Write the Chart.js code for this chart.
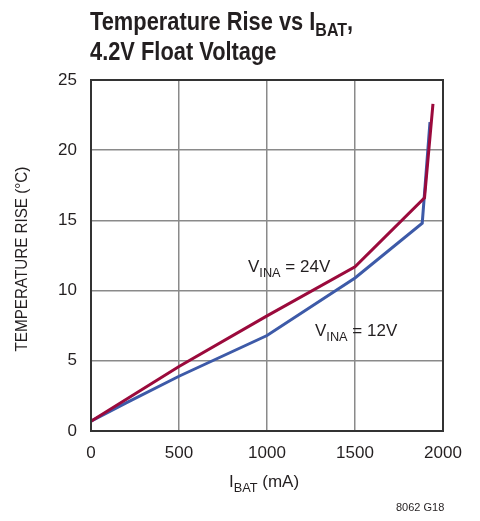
<!DOCTYPE html>
<html>
<head>
<meta charset="utf-8">
<script src="https://cdn.jsdelivr.net/npm/chart.js@4"></script>
<style>
  html, body { margin: 0; padding: 0; background: #fff; }
  #wrap { width: 480px; height: 521px; position: relative; }
</style>
</head>
<body>
<div id="wrap"><canvas id="chart"></canvas></div>
<script>
// data
const ibat24 = [0, 500, 1000, 1500, 1895, 1943];
const rise24 = [0.7, 4.6, 8.2, 11.7, 16.6, 23.3];
const ibat12 = [0, 200, 500, 1000, 1500, 1882, 1926];
const rise12 = [0.7, 2.0, 3.9, 6.8, 10.9, 14.8, 22.0];
const xTicks = [0, 500, 1000, 1500, 2000];
const yTicks = [0, 5, 10, 15, 20, 25];

const FONT = "'Liberation Sans', Arial, sans-serif";
const INK = '#231f20';

function pts(xs, ys) { return xs.map((x, i) => ({ x: x, y: ys[i] })); }

// draw text with subscript part: parts = [[text, sub?], ...]
function richText(ctx, parts, x, y, size, align) {
  let w = 0;
  parts.forEach(p => {
    ctx.font = (p[1] ? size * 0.75 : size) + 'px ' + FONT;
    w += ctx.measureText(p[0]).width;
  });
  let cx = align === 'center' ? x - w / 2 : x;
  parts.forEach(p => {
    ctx.font = (p[1] ? size * 0.75 : size) + 'px ' + FONT;
    ctx.fillText(p[0], cx, p[1] ? y + size * 0.28 : y);
    cx += ctx.measureText(p[0]).width;
  });
}

const labels = {
  id: 'labels',
  afterDraw(chart) {
    const ctx = chart.ctx;
    ctx.save();
    ctx.fillStyle = INK;
    ctx.textBaseline = 'alphabetic';
    ctx.textAlign = 'left';
    // title, squeezed to look condensed
    ctx.save();
    ctx.translate(90, 0);
    ctx.scale(0.84, 1);
    ctx.font = 'bold 26px ' + FONT;
    ctx.fillText('Temperature Rise vs I', 0, 30);
    let w = ctx.measureText('Temperature Rise vs I').width;
    ctx.font = 'bold 19px ' + FONT;
    ctx.fillText('BAT', w, 36);
    let w2 = ctx.measureText('BAT').width;
    ctx.font = 'bold 26px ' + FONT;
    ctx.fillText(',', w + w2, 30);
    ctx.fillText('4.2V Float Voltage', 0, 60);
    ctx.restore();

    // curve labels
    richText(ctx, [['V', false], ['INA', true], [' = 24V', false]], 248, 272, 17, 'left');
    richText(ctx, [['V', false], ['INA', true], [' = 12V', false]], 315, 336, 17, 'left');

    // x axis title
    richText(ctx, [['I', false], ['BAT', true], [' (mA)', false]], 264, 487, 17, 'center');

    // y axis title
    ctx.save();
    ctx.translate(27, 259);
    ctx.rotate(-Math.PI / 2);
    ctx.scale(0.95, 1);
    ctx.textAlign = 'center';
    ctx.font = '16px ' + FONT;
    ctx.fillText('TEMPERATURE RISE (°C)', 0, 0);
    ctx.restore();

    // figure code
    ctx.font = '11px ' + FONT;
    ctx.textAlign = 'left';
    ctx.fillText('8062 G18', 396, 511);

    // frame
    const a = chart.chartArea;
    ctx.strokeStyle = '#333';
    ctx.lineWidth = 2;
    ctx.strokeRect(a.left, a.top, a.right - a.left, a.bottom - a.top);
    ctx.restore();
  }
};

new Chart(document.getElementById('chart'), {
  type: 'scatter',
  data: {
    datasets: [{
      label: 'VINA = 12V',
      data: pts(ibat12, rise12),
      showLine: true,
      borderColor: '#3d5aa8',
      borderWidth: 3,
      pointRadius: 0,
      order: 2
    }, {
      label: 'VINA = 24V',
      data: pts(ibat24, rise24),
      showLine: true,
      borderColor: '#9b0a3c',
      borderWidth: 3,
      pointRadius: 0,
      order: 1
    }]
  },
  options: {
    responsive: true,
    maintainAspectRatio: false,
    animation: false,
    layout: { padding: { left: 0, top: 80, right: 37, bottom: 0 } },
    plugins: { legend: { display: false }, tooltip: { enabled: false } },
    scales: {
      x: {
        type: 'linear',
        min: 0, max: 2000,
        afterBuildTicks: s => { s.ticks = xTicks.map(v => ({ value: v })); },
        afterFit: s => { s.height = 90; },
        grid: { color: '#8a8a8a', lineWidth: 1.5, drawTicks: false },
        border: { display: false },
        ticks: { color: INK, font: { family: FONT, size: 17 }, padding: 12, maxRotation: 0,
                 callback: v => String(v) }
      },
      y: {
        type: 'linear',
        min: 0, max: 25,
        afterBuildTicks: s => { s.ticks = yTicks.map(v => ({ value: v })); },
        afterFit: s => { s.width = 91; },
        grid: { color: '#8a8a8a', lineWidth: 1.5, drawTicks: false },
        border: { display: false },
        ticks: { color: INK, font: { family: FONT, size: 17 }, padding: 14,
                 callback: v => String(v) }
      }
    }
  },
  plugins: [labels]
});
</script>
</body>
</html>
